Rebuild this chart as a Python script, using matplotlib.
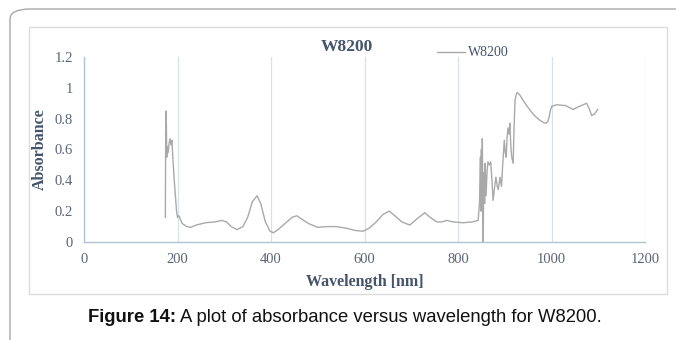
"""Absorbance spectrum of W8200 (Figure 14 recreation)."""

import matplotlib

matplotlib.use("Agg")
import matplotlib.pyplot as plt
from matplotlib.patches import FancyBboxPatch, Rectangle

# wavelength (nm) and absorbance
wavelength = [
    174, 175, 176, 177, 178, 180, 182, 184, 186, 188, 190, 193, 195, 198, 200,
    203, 210, 220, 228, 240, 260, 280, 295, 305, 315, 327, 340, 350, 360, 370,
    378, 388, 398, 405, 415, 430, 445, 455, 465, 480, 500, 520, 540, 560, 580,
    597, 610, 625, 640, 653, 665, 680, 697, 712, 729, 740, 755, 765, 776, 790,
    811, 830, 843, 846, 848, 849, 850, 851, 852, 853, 854, 855, 857, 858, 860,
    862, 864, 867, 870, 873, 875, 878, 881, 884, 886, 890, 893, 896, 899, 901,
    903, 905, 907, 909, 911, 913, 915, 918, 920, 922, 925, 927, 933, 939, 948,
    958, 967, 975, 983, 988, 992, 995, 998, 1001, 1011, 1030, 1046, 1060, 1075,
    1080, 1086, 1092, 1099,
]
absorbance = [
    0.16, 0.85, 0.80, 0.55, 0.62, 0.58, 0.64, 0.67, 0.63, 0.66, 0.55, 0.40, 0.32, 0.20, 0.16,
    0.17, 0.12, 0.10, 0.095, 0.11, 0.125, 0.13, 0.14, 0.13, 0.10, 0.08, 0.10, 0.16, 0.26, 0.30,
    0.25, 0.13, 0.07, 0.06, 0.08, 0.12, 0.16, 0.17, 0.15, 0.12, 0.095, 0.10, 0.10, 0.09, 0.075,
    0.07, 0.09, 0.13, 0.18, 0.20, 0.17, 0.13, 0.11, 0.15, 0.19, 0.16, 0.13, 0.13, 0.14, 0.13,
    0.125, 0.13, 0.14, 0.25, 0.55, 0.20, 0.60, 0.35, 0.67, 0.30, 0.0, 0.45, 0.25, 0.51, 0.30,
    0.45, 0.52, 0.50, 0.52, 0.38, 0.27, 0.35, 0.42, 0.36, 0.34, 0.42, 0.36, 0.52, 0.66, 0.58,
    0.55, 0.68, 0.74, 0.70, 0.77, 0.62, 0.55, 0.51, 0.75, 0.92, 0.96, 0.97, 0.95, 0.92, 0.88,
    0.84, 0.81, 0.79, 0.775, 0.77, 0.78, 0.81, 0.86, 0.88, 0.89, 0.885, 0.86, 0.88, 0.90,
    0.87, 0.82, 0.83, 0.86,
]
x_ticks = [0, 200, 400, 600, 800, 1000, 1200]
y_ticks = [0, 0.2, 0.4, 0.6, 0.8, 1.0, 1.2]
y_tick_labels = ["0", "0.2", "0.4", "0.6", "0.8", "1", "1.2"]

W, H = 676, 340
serif = ["Liberation Serif", "DejaVu Serif"]
text_col = "#44546a"
tick_col = "#5a6474"

fig = plt.figure(figsize=(W / 100, H / 100), dpi=100)

# outer rounded frame (runs off the right and bottom edges)
fig.patches.append(FancyBboxPatch(
    (10 / W, -0.2), 1.1, 1 - 9 / H + 0.2,
    boxstyle="round,pad=0,rounding_size=0.03",
    transform=fig.transFigure, fill=False, edgecolor="#a8a8a8", lw=1.0,
))
# chart area frame
fig.patches.append(Rectangle(
    (29 / W, 1 - 294 / H), (667 - 29) / W, (294 - 27) / H,
    transform=fig.transFigure, fill=False, edgecolor="#dcdcdc", lw=1.0,
))

ax = fig.add_axes([84 / W, 1 - 242 / H, (645 - 84) / W, (242 - 57) / H])
ax.plot(wavelength, absorbance, color="#a9a9a9", lw=1.0, label="W8200")
ax.set_xlim(0, 1200)
ax.set_ylim(0, 1.2)
ax.set_xticks(x_ticks)
ax.set_yticks(y_ticks)
ax.set_yticklabels(y_tick_labels)
ax.tick_params(length=0, labelsize=10.5, colors=tick_col, pad=8)
for lab in ax.get_xticklabels() + ax.get_yticklabels():
    lab.set_family(serif)
ax.grid(True, axis="x", color="#d9e0ea", lw=0.9)
ax.set_axisbelow(True)
for side in ("top", "right"):
    ax.spines[side].set_visible(False)
for side in ("left", "bottom"):
    ax.spines[side].set_color("#b4c2d6")
    ax.spines[side].set_linewidth(1.0)

ax.set_xlabel("Wavelength [nm]", family=serif, fontweight="bold",
              fontsize=11.5, color=text_col, labelpad=6)
ax.set_ylabel("Absorbance", family=serif, fontweight="bold",
              fontsize=11.5, color=text_col, labelpad=5)

fig.text(347 / W, 1 - 47 / H, "W8200", family=serif, fontweight="bold",
         fontsize=12.5, color=text_col, ha="center", va="center")
leg = ax.legend(loc="center left", bbox_to_anchor=(430 / W, 1 - 53 / H),
                bbox_transform=fig.transFigure, frameon=False,
                handlelength=2.0, handletextpad=0.2, borderpad=0,
                prop={"family": serif, "size": 10})
for t in leg.get_texts():
    t.set_color(text_col)

cap_font = ["Liberation Sans", "DejaVu Sans"]
t1 = fig.text(88 / W, 1 - 318 / H, "Figure 14:", family=cap_font,
              fontweight="bold", fontsize=13.3, color="#111111",
              ha="left", va="center")
fig.canvas.draw()
bb = t1.get_window_extent()
fig.text((bb.x1 + 4) / W, 1 - 318 / H, "A plot of absorbance versus wavelength for W8200.",
         family=cap_font, fontsize=13.3, color="#111111", ha="left", va="center")

fig.savefig("out.png", dpi=100)
